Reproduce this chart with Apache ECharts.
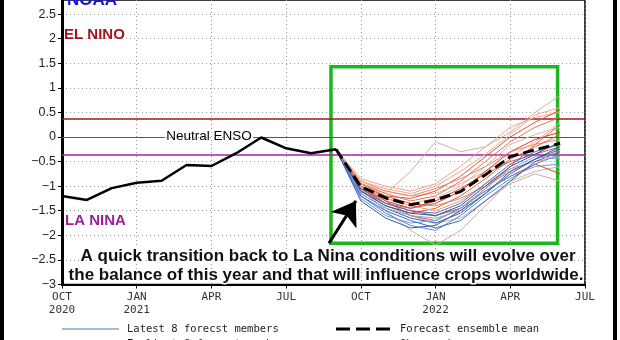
<!DOCTYPE html>
<html><head><meta charset="utf-8">
<script src="https://cdn.jsdelivr.net/npm/echarts/dist/echarts.min.js"></script>
<style>html,body{margin:0;padding:0;background:#fff}#c{width:620px;height:340px}</style>
</head><body><div id="c"></div>
<script>
// ---- data ----
const xTickLabels = ["OCT\n2020", "JAN\n2021", "APR", "JUL", "OCT", "JAN\n2022", "APR", "JUL"];
const obsMonths = [0, 1, 2, 3, 4, 5, 6, 7, 8, 9, 10, 11];           // Oct 2020 .. Sep 2021
const observed = [-1.20, -1.28, -1.04, -0.93, -0.89, -0.57, -0.59, -0.33, -0.01, -0.23, -0.33, -0.25];
const fcstMonths = [11, 12, 13, 14, 15, 16, 17, 18, 19, 20];         // Sep 2021 .. Jun 2022
const ensembleMean = [-0.25, -1.01, -1.24, -1.38, -1.28, -1.11, -0.77, -0.40, -0.26, -0.13];

const latest1 = [-0.25, -1.15, -1.45, -1.65, -1.75, -1.55, -1.15, -0.75, -0.45, -0.25];
const latest2 = [-0.25, -1.20, -1.55, -1.80, -1.90, -1.60, -1.20, -0.85, -0.55, -0.35];
const latest3 = [-0.25, -1.10, -1.40, -1.55, -1.60, -1.40, -1.00, -0.60, -0.35, -0.10];
const latest4 = [-0.25, -1.25, -1.60, -1.75, -1.70, -1.45, -1.10, -0.80, -0.60, -0.55];
const latest5 = [-0.25, -1.05, -1.35, -1.50, -1.55, -1.35, -0.95, -0.55, -0.30, -0.15];
const latest6 = [-0.25, -1.20, -1.50, -1.70, -1.85, -1.70, -1.30, -0.90, -0.50, -0.30];
const latest7 = [-0.25, -1.15, -1.45, -1.60, -1.65, -1.50, -1.05, -0.65, -0.40, -0.45];
const latest8 = [-0.25, -1.30, -1.65, -1.85, -1.80, -1.50, -1.15, -0.70, -0.45, -0.20];

const early1 = [-0.25, -1.00, -1.20, -1.25, -1.10, -0.80, -0.40, 0.00, 0.30, 0.55];
const early2 = [-0.25, -0.95, -1.15, -1.30, -1.20, -0.90, -0.50, -0.10, 0.20, 0.40];
const early3 = [-0.25, -1.05, -1.30, -1.45, -1.35, -1.10, -0.70, -0.30, -0.05, 0.10];
const early4 = [-0.25, -0.90, -1.10, -1.20, -1.05, -0.85, -0.60, -0.30, -0.15, -0.05];
const early5 = [-0.25, -1.10, -1.40, -1.55, -1.45, -1.20, -0.85, -0.45, -0.20, 0.05];
const early6 = [-0.25, -1.00, -1.25, -1.40, -1.50, -1.30, -0.95, -0.65, -0.50, -0.40];
const early7 = [-0.25, -1.05, -1.35, -1.50, -1.60, -1.45, -1.10, -0.80, -0.55, -0.75];
const early8 = [-0.25, -0.95, -1.20, -1.35, -1.40, -1.25, -1.00, -0.70, -0.45, -0.30];
const early9 = [-0.25, -1.00, -1.30, -1.60, -1.70, -1.45, -1.05, -0.60, -0.15, 0.25];
const early10 = [-0.25, -0.90, -1.05, -1.15, -1.00, -0.70, -0.35, 0.05, 0.45, 0.60];
const early11 = [-0.25, -1.10, -1.35, -1.45, -1.30, -1.05, -0.75, -0.50, -0.35, -0.20];

const other1 = [-0.25, -0.95, -1.15, -0.70, -0.10, -0.30, -0.20, 0.10, 0.50, 0.85];
const other2 = [-0.25, -1.05, -1.50, -1.90, -2.20, -1.90, -1.40, -0.90, -0.70, -0.60];
const other3 = [-0.25, -0.85, -1.00, -1.10, -0.95, -0.60, -0.20, 0.20, 0.40, 0.50];
const other4 = [-0.25, -1.00, -1.25, -1.35, -1.25, -1.00, -0.60, -0.15, 0.05, 0.20];
const other5 = [-0.25, -1.10, -1.40, -1.60, -1.75, -1.65, -1.30, -0.95, -0.75, -0.90];
const other6 = [-0.25, -0.95, -1.10, -1.20, -1.15, -0.95, -0.70, -0.40, -0.10, 0.30];

const elNinoLevel = 0.38;
const laNinaLevel = -0.36;
const neutralLevel = 0;

// ---- build ----
const latestMembers = [latest1, latest2, latest3, latest4, latest5, latest6, latest7, latest8];
const earlyMembers = [early1, early2, early3, early4, early5, early6, early7, early8, early9, early10, early11];
const otherMembers = [other1, other2, other3, other4, other5, other6];
const latestColors = ['#3565b8', '#5b86cc', '#2a55a8', '#7097d6', '#4675c2', '#3b6abf', '#86a8dd', '#2f5db0'];
const earlyColors = ['#e0563a', '#e8755a', '#d9402e', '#ee8a70', '#e36545', '#f09a80', '#d84a35', '#ea7e62', '#e5603f', '#f2a58c', '#dd5238'];
const otherColors = ['#dcae9e', '#cfb0a6', '#e8a896', '#d9b8aa', '#c9aca2', '#eab09c'];
const pair = (xs, ys) => xs.map((x, i) => [x, ys[i]]);

const series = [];
otherMembers.forEach((m, i) => series.push({type: 'line', name: 'Other forecst members', data: pair(fcstMonths, m), symbol: 'none', silent: true, z: 2,
  color: otherColors[i], lineStyle: {width: 1, color: otherColors[i]}}));
earlyMembers.forEach((m, i) => series.push({type: 'line', name: 'Earliest 8 forecst members', data: pair(fcstMonths, m), symbol: 'none', silent: true, z: 3,
  color: '#e0563a', lineStyle: {width: 1, color: earlyColors[i]}}));
latestMembers.forEach((m, i) => series.push({type: 'line', name: 'Latest 8 forecst members', data: pair(fcstMonths, m), symbol: 'none', silent: true, z: 4,
  color: '#4a72b0', lineStyle: {width: 1, color: latestColors[i]}}));
series.push({type: 'line', name: 'Forecast ensemble mean', data: pair(fcstMonths, ensembleMean), symbol: 'none', silent: true, z: 6,
  color: '#000', lineStyle: {width: 3, color: '#000', type: [11, 5]}});
series.push({type: 'line', name: 'Observed', data: pair(obsMonths, observed), symbol: 'none', silent: true, z: 6,
  color: '#000', lineStyle: {width: 2.5, color: '#000'},
  markLine: {
    silent: true, symbol: ['none', 'none'], animation: false, label: {show: false}, z: 1,
    data: [
      {yAxis: elNinoLevel, lineStyle: {color: '#a3141c', width: 1.6, type: 'solid'}},
      {yAxis: laNinaLevel, lineStyle: {color: '#a620a8', width: 1.6, type: 'solid'}},
      [{coord: [0, neutralLevel], lineStyle: {color: '#555', width: 1, type: 'solid'}}, {coord: [4.12, neutralLevel]}],
      [{coord: [7.68, neutralLevel], lineStyle: {color: '#555', width: 1, type: 'solid'}}, {coord: [21, neutralLevel]}]
    ]
  }});
// annotation: green box + arrow
series.push({type: 'line', name: 'annot', data: [], silent: true, z: 8,
  markArea: {silent: true, itemStyle: {color: 'rgba(0,0,0,0)', borderColor: '#1fb51f', borderWidth: 3.5},
    data: [[{coord: [10.8, 1.43]}, {coord: [19.9, -2.16]}]]},
  markLine: {silent: true, animation: false, label: {show: false}, symbol: ['none', 'arrow'], symbolSize: 23,
    data: [[{coord: [10.72, -2.16], lineStyle: {color: '#000', width: 3, type: 'solid'}}, {coord: [11.8, -1.3]}]]}
});

const chart = echarts.init(document.getElementById('c'), null, {renderer: 'canvas'});
const LF = '10.5px "DejaVu Sans Mono"';
chart.setOption({
  animation: false,
  backgroundColor: '#fff',
  grid: {left: 62, right: 35, top: 0, bottom: 55.5, outerBoundsMode: 'none', containLabel: false,
    show: true, borderColor: '#000', borderWidth: 1.5, backgroundColor: 'transparent'},
  xAxis: {type: 'value', min: 0, max: 21, interval: 3,
    axisLine: {show: true, onZero: false, lineStyle: {color: '#000', width: 2}},
    axisTick: {show: true, length: 4, lineStyle: {color: '#000'}},
    axisLabel: {margin: 6, color: '#333', fontFamily: '"DejaVu Sans Mono"', fontSize: 11, lineHeight: 13,
      formatter: v => xTickLabels[Math.round(v / 3)] || ''},
    splitLine: {show: true, lineStyle: {color: '#999', width: 1, type: [1, 3]}}},
  yAxis: {type: 'value', min: -3, max: 2.786, interval: 0.5,
    axisLine: {show: true, onZero: false, lineStyle: {color: '#000', width: 3}},
    axisTick: {show: true, length: 4, lineStyle: {color: '#000'}},
    axisLabel: {margin: 6, color: '#222', fontFamily: '"Liberation Sans"', fontSize: 12.5, showMaxLabel: false,
      formatter: v => v < 0 ? '\u2212' + Math.abs(v) : String(v)},
    splitLine: {show: true, showMaxLine: false, lineStyle: {color: '#999', width: 1, type: [1, 3]}}},
  graphic: [
    {type: 'rect', shape: {x: 0, y: 0, width: 4, height: 340}, style: {fill: '#000'}, z: 100},
    {type: 'rect', shape: {x: 613, y: 0, width: 4, height: 340}, style: {fill: '#000'}, z: 100},
    {type: 'text', x: 67, y: 9, z: 50, style: {text: 'NOAA', font: 'bold 17px "Liberation Sans"', fill: '#1414e0', verticalAlign: 'bottom'}},
    {type: 'text', x: 64, y: 35, z: 50, style: {text: 'EL NINO', font: 'bold 15px "Liberation Sans"', fill: '#a3141c', verticalAlign: 'middle'}},
    {type: 'text', x: 65, y: 221, z: 50, style: {text: 'LA NINA', font: 'bold 15px "Liberation Sans"', fill: '#9a1f9f', verticalAlign: 'middle'}},
    {type: 'text', x: 209, y: 136, z: 50, style: {text: 'Neutral ENSO', font: '13.5px "Liberation Sans"', fill: '#000', align: 'center', verticalAlign: 'middle'}},
    {type: 'text', x: 328, y: 256, z: 60, style: {text: 'A quick transition back to La Nina conditions will evolve over', font: 'bold 17px "Liberation Sans"', fill: '#111', align: 'center', verticalAlign: 'middle', stroke: '#fff', lineWidth: 3, strokeFirst: true}},
    {type: 'text', x: 326, y: 275, z: 60, style: {text: 'the balance of this year and that will influence crops worldwide.', font: 'bold 17px "Liberation Sans"', fill: '#111', align: 'center', verticalAlign: 'middle', stroke: '#fff', lineWidth: 3, strokeFirst: true}},
    // legend (drawn by hand)
    {type: 'line', shape: {x1: 62, y1: 329, x2: 119, y2: 329}, style: {stroke: '#4a72b0', lineWidth: 1.2}, z: 50},
    {type: 'text', x: 127, y: 329, z: 50, style: {text: 'Latest 8 forecst members', font: LF, fill: '#222', verticalAlign: 'middle'}},
    {type: 'line', shape: {x1: 336, y1: 329, x2: 393, y2: 329}, style: {stroke: '#000', lineWidth: 3, lineDash: [14, 6]}, z: 50},
    {type: 'text', x: 400, y: 329, z: 50, style: {text: 'Forecast ensemble mean', font: LF, fill: '#222', verticalAlign: 'middle'}},
    {type: 'line', shape: {x1: 62, y1: 344, x2: 119, y2: 344}, style: {stroke: '#e0563a', lineWidth: 1.2}, z: 50},
    {type: 'text', x: 127, y: 344, z: 50, style: {text: 'Earliest 8 forecst members', font: LF, fill: '#222', verticalAlign: 'middle'}},
    {type: 'line', shape: {x1: 336, y1: 344, x2: 393, y2: 344}, style: {stroke: '#000', lineWidth: 2.5}, z: 50},
    {type: 'text', x: 400, y: 344, z: 50, style: {text: 'Observed', font: LF, fill: '#222', verticalAlign: 'middle'}}
  ],
  series: series
});
</script>
</body></html>
